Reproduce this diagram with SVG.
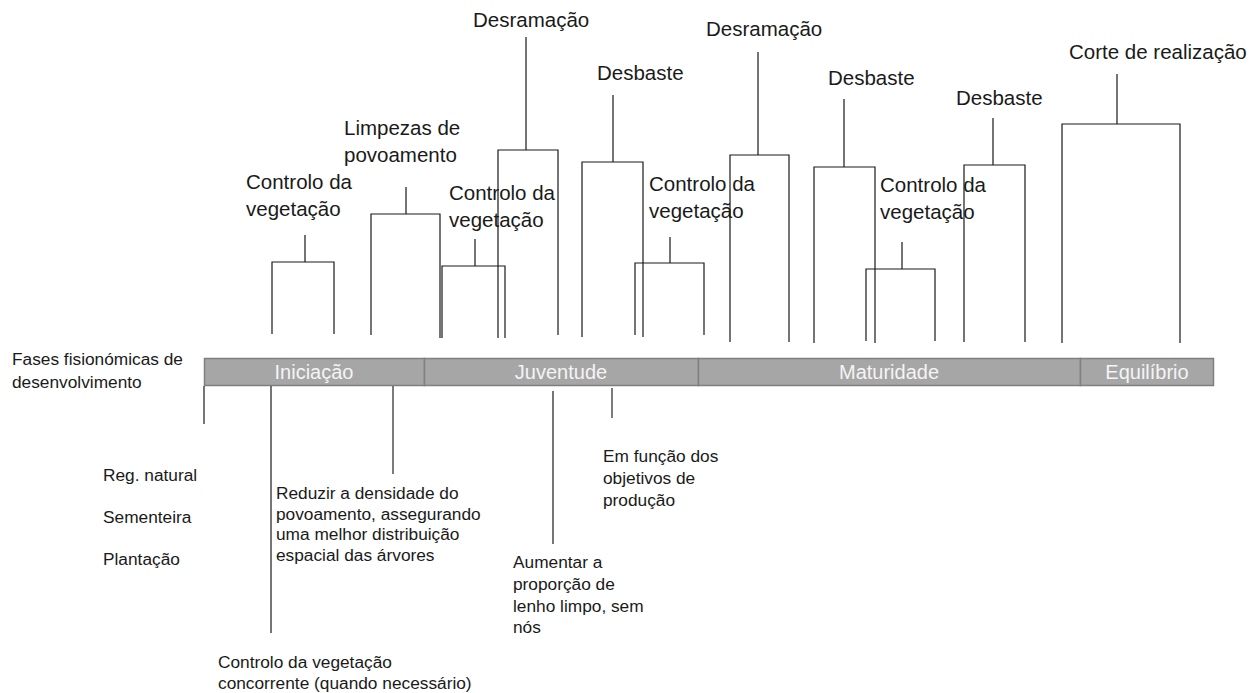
<svg xmlns="http://www.w3.org/2000/svg" width="1251" height="693" viewBox="0 0 1251 693">
<style>
.t{font-family:"Liberation Sans",Arial,sans-serif;font-size:20.5px;fill:#1a1a1a}
.s{font-family:"Liberation Sans",Arial,sans-serif;font-size:17.3px;fill:#1a1a1a}
.b{font-family:"Liberation Sans",Arial,sans-serif;font-size:20px;fill:#f4f4f4;text-anchor:middle}
.ln{fill:none;stroke:#1a1a1a;stroke-width:1.2}
.g{fill:none;stroke:#444;stroke-width:1.4}
.bar{fill:#a6a6a6;stroke:#7f7f7f;stroke-width:1.5}
</style>
<rect width="1251" height="693" fill="#fff"/>
<g id="timeline">
<rect class="bar" x="204.5" y="358.5" width="220" height="27"/>
<rect class="bar" x="424.5" y="358.5" width="274" height="27"/>
<rect class="bar" x="698.5" y="358.5" width="382" height="27"/>
<rect class="bar" x="1080.5" y="358.5" width="133" height="27"/>
<text class="b" x="314" y="379">Iniciação</text>
<text class="b" x="561" y="379">Juventude</text>
<text class="b" x="889" y="379">Maturidade</text>
<text class="b" x="1147" y="379">Equilíbrio</text>
</g>
<g id="fases-label"><text class="s" x="12" y="365">Fases fisionómicas de</text><text class="s" x="12" y="388">desenvolvimento</text></g>
<g id="controlo1"><text class="t" x="246" y="189">Controlo da</text><text class="t" x="246" y="216">vegetação</text></g>
<g id="limpezas"><text class="t" x="344" y="135">Limpezas de</text><text class="t" x="344" y="162">povoamento</text></g>
<g id="controlo2"><text class="t" x="449" y="200">Controlo da</text><text class="t" x="449" y="227">vegetação</text></g>
<g id="desramacao1"><text class="t" x="473" y="27">Desramação</text></g>
<g id="desbaste1"><text class="t" x="597" y="80">Desbaste</text></g>
<g id="controlo3"><text class="t" x="649" y="191">Controlo da</text><text class="t" x="649" y="218">vegetação</text></g>
<g id="desramacao2"><text class="t" x="706" y="36">Desramação</text></g>
<g id="desbaste2"><text class="t" x="828" y="85">Desbaste</text></g>
<g id="controlo4"><text class="t" x="880" y="192">Controlo da</text><text class="t" x="880" y="219">vegetação</text></g>
<g id="desbaste3"><text class="t" x="956" y="105">Desbaste</text></g>
<g id="corte"><text class="t" x="1069" y="59">Corte de realização</text></g>
<g id="regeneracao"><text class="s" x="103" y="481">Reg. natural</text><text class="s" x="103" y="523">Sementeira</text><text class="s" x="103" y="565">Plantação</text></g>
<g id="nota-controlo"><text class="s" x="218" y="668">Controlo da vegetação</text><text class="s" x="218" y="689">concorrente (quando necessário)</text></g>
<g id="nota-limpezas"><text class="s" x="276" y="499">Reduzir a densidade do</text><text class="s" x="276" y="520">povoamento, assegurando</text><text class="s" x="276" y="540">uma melhor distribuição</text><text class="s" x="276" y="561">espacial das árvores</text></g>
<g id="nota-desramacao"><text class="s" x="513" y="568">Aumentar a</text><text class="s" x="513" y="590">proporção de</text><text class="s" x="513" y="612">lenho limpo, sem</text><text class="s" x="513" y="633">nós</text></g>
<g id="nota-desbaste"><text class="s" x="603" y="462">Em função dos</text><text class="s" x="603" y="484">objetivos de</text><text class="s" x="603" y="506">produção</text></g>
<g id="connectors">
<path class="ln" d="M305,235V262M272,334V262H334V334"/>
<path class="ln" d="M406,187V214M371,335V214H440V338"/>
<path class="ln" d="M475,239V266M442,338V266H505V338"/>
<path class="ln" d="M526,37V150M498,338V150H558V335"/>
<path class="ln" d="M613,95V162M582,337V162H643V337"/>
<path class="ln" d="M670,237V263M635,335V263H704V335"/>
<path class="ln" d="M758,52V155M730,342V155H789V342"/>
<path class="ln" d="M844,99V167M814,343V167H875V343"/>
<path class="ln" d="M902,242V269M866,341V269H935V341"/>
<path class="ln" d="M993,118V165M964,342V165H1025V342"/>
<path class="ln" d="M1117,74V124M1062,343V124H1180V343"/>
<path class="ln" d="M204,386V424"/>
<path class="ln" d="M271,386V633"/>
<path class="g" d="M393,386V474"/>
<path class="ln" d="M553,391V544"/>
<path class="g" d="M612,388V418"/>
</g>
</svg>
